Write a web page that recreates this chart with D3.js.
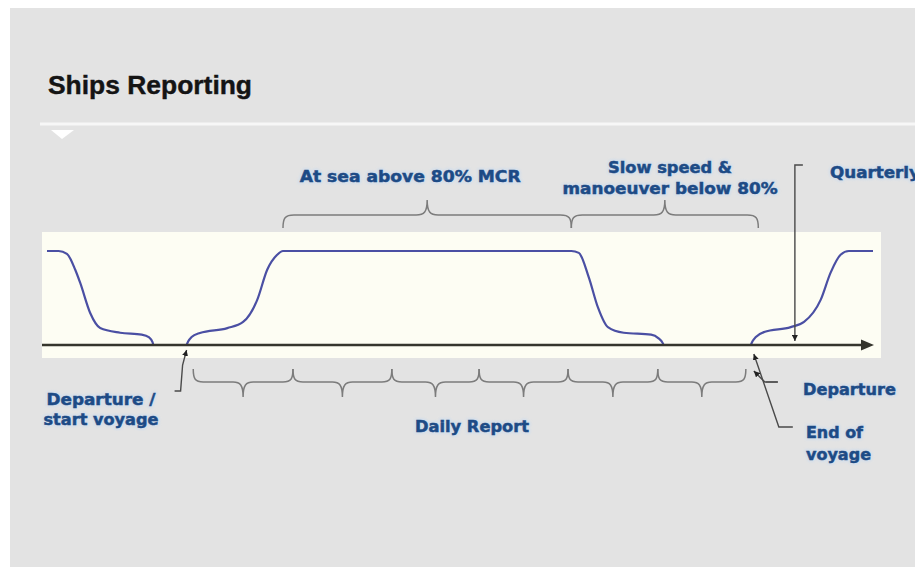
<!DOCTYPE html>
<html><head><meta charset="utf-8">
<script src="https://cdn.jsdelivr.net/npm/d3@7"></script>
<style>html,body{margin:0;padding:0;background:#fff;} svg{display:block}</style>
</head><body><svg id="chart" width="922" height="567"></svg>
<script>
// ---------------- DATA ----------------
const chartTitle = "Ships Reporting";
// engine load (% of range) over the voyage timeline (0-100)
const loadPrevVoyage = [[0.6,100],[2.0,100],[3.0,97],[4.0,80],[4.6,66],[5.8,34],[7.0,18],[9.4,13],[12.0,11],[12.9,8],[13.3,3],[13.4,0]];
const loadVoyage = [[17.4,0],[17.6,4],[18.0,8.5],[19.0,12.8],[22.3,18],[24.2,24.5],[25.9,48],[27.1,80],[28.3,96],[29.0,100],[63.7,100],[64.6,98],[65.8,72],[66.9,40],[68.1,19],[70.0,13],[73.3,11],[74.2,7],[74.7,2],[74.8,0]];
const loadNextVoyage = [[85.3,0],[85.5,4],[85.9,8.5],[86.9,13.8],[90.1,19],[91.7,24.5],[93.7,48],[94.9,77],[96.1,96],[97.1,100],[100,100]];
const phaseLabels = [["At sea above 80% MCR"], ["Slow speed &", "manoeuver below 80%"]];
const phaseStart = [29.0, 63.7];
const phaseEnd = [63.7, 86.2];
const dailyBounds = [18.2, 30.2, 42.1, 52.6, 63.3, 74.1, 84.7];
const dailyLabel = "Daily Report";
const startLabel = ["Departure /", "start voyage"];
const startTime = 17.4;
const endLabel = ["End of", "voyage"];
const departLabel = "Departure";
const endTime = 85.3;
const quarterlyLabel = "Quarterly";
const quarterlyTime = 90.6;

// ---------------- DRAW ----------------
const svg = d3.select("#chart");
const blue = "#1d4b86", curveCol = "#4a4fa3", grayLine = "#7c7c7c";

const x = d3.scaleLinear().domain([0, 100]).range([42, 873]);
const y = d3.scaleLinear().domain([0, 100]).range([345, 251]);

const defs = svg.append("defs");
defs.append("clipPath").attr("id", "frame").append("rect")
  .attr("x", 10).attr("y", 8).attr("width", 905).attr("height", 559);
defs.append("marker").attr("id", "arr").attr("viewBox", "0 0 10 10")
  .attr("refX", 10).attr("refY", 5).attr("markerWidth", 6).attr("markerHeight", 6)
  .attr("markerUnits", "userSpaceOnUse").attr("orient", "auto")
  .append("path").attr("d", "M0,0 L10,5 L0,10 z").attr("fill", "#222");
defs.append("filter").attr("id", "soft").append("feGaussianBlur").attr("stdDeviation", 1.2);
defs.append("filter").attr("id", "soft2").append("feGaussianBlur").attr("stdDeviation", 0.6);

const g = svg.append("g").attr("clip-path", "url(#frame)");
g.append("rect").attr("x", 10).attr("y", 8).attr("width", 905).attr("height", 559).attr("fill", "#e3e3e3");

// slide decorations
g.append("line").attr("x1", 40).attr("x2", 915).attr("y1", 124).attr("y2", 124)
  .attr("stroke", "#f7f7f7").attr("stroke-width", 3);
g.append("path").attr("d", "M51,130 L74,130 L62,139 Z").attr("fill", "#ffffff").attr("filter", "url(#soft2)");

g.append("text").attr("x", 48).attr("y", 94).text(chartTitle)
  .attr("font-family", "Liberation Sans, Arial, sans-serif").attr("font-weight", "bold")
  .attr("font-size", 25).attr("fill", "#141414").attr("stroke", "#141414").attr("stroke-width", 0.4)
  .attr("textLength", 204).attr("lengthAdjust", "spacingAndGlyphs");

// band
g.append("rect").attr("x", x(0)).attr("y", y(100) - 19)
  .attr("width", x(100) + 8 - x(0)).attr("height", (y(0) + 13) - (y(100) - 19))
  .attr("fill", "#fdfdf3");

// load curves
const line = d3.line().x(d => x(d[0])).y(d => y(d[1])).curve(d3.curveMonotoneX);
[loadPrevVoyage, loadVoyage, loadNextVoyage].forEach(s => {
  g.append("path").attr("d", line(s)).attr("fill", "none")
    .attr("stroke", curveCol).attr("stroke-width", 2.2);
});

// time axis with arrow
g.append("line").attr("x1", x(0)).attr("x2", x(100) - 10).attr("y1", y(0)).attr("y2", y(0))
  .attr("stroke", "#35352d").attr("stroke-width", 2.6);
g.append("path").attr("d", `M${x(100)-12},${y(0)-5.5} L${x(100)+1},${y(0)} L${x(100)-12},${y(0)+5.5} Z`)
  .attr("fill", "#35352d");

// braces
function brace(x0, x1, yEnd, yMid, yTip, r) {
  const xm = (x0 + x1) / 2, s = Math.sign(yEnd - yMid);
  return `M${x0},${yEnd} C${x0},${yMid+3*s} ${x0+2},${yMid} ${x0+r},${yMid} L${xm-r},${yMid} C${xm-3},${yMid} ${xm},${yMid-3*s} ${xm},${yTip} C${xm},${yMid-3*s} ${xm+3},${yMid} ${xm+r},${yMid} L${x1-r},${yMid} C${x1-2},${yMid} ${x1},${yMid+3*s} ${x1},${yEnd}`;
}
phaseStart.forEach((s, i) => {
  g.append("path").attr("d", brace(x(s), x(phaseEnd[i]), 228, 215, 200, 11))
    .attr("fill", "none").attr("stroke", grayLine).attr("stroke-width", 1.5);
});
for (let i = 0; i < dailyBounds.length - 1; i++) {
  g.append("path").attr("d", brace(x(dailyBounds[i]), x(dailyBounds[i + 1]), 369, 382, 397, 10))
    .attr("fill", "none").attr("stroke", grayLine).attr("stroke-width", 1.5);
}
// start of next daily brace, partly hidden
g.append("path").attr("d", `M${x(dailyBounds[6])+20},382 L${x(dailyBounds[6])+32},382`)
  .attr("fill", "none").attr("stroke", grayLine).attr("stroke-width", 1.5);

// text helper
function label(lines, cx, y0, dy, lens, anchor) {
  lines.forEach((l, i) => {
    const mk = () => g.append("text").attr("x", cx).attr("y", y0 + i * dy).text(l)
      .attr("text-anchor", anchor || "middle")
      .attr("font-family", "DejaVu Sans, Verdana, sans-serif").attr("font-weight", "bold")
      .attr("font-size", 16)
      .attr("textLength", lens[i]).attr("lengthAdjust", "spacingAndGlyphs");
    mk().attr("fill", "#cddcee").attr("stroke", "#cddcee").attr("stroke-width", 4)
      .attr("stroke-linejoin", "round").attr("opacity", 0.7).attr("filter", "url(#soft)");
    mk().attr("fill", blue).attr("stroke", blue).attr("stroke-width", 0.5);
  });
}
label(phaseLabels[0], (x(phaseStart[0]) + x(phaseEnd[0])) / 2 - 17, 182, 0, [221]);
label(phaseLabels[1], 670, 173, 21, [124, 215]);
label([quarterlyLabel], 830, 178, 0, [90], "start");
label(startLabel, 101, 405, 20, [109, 115]);
label([dailyLabel], 472, 432, 0, [114]);
label([departLabel], 803, 395, 0, [93], "start");
label(endLabel, 806, 438, 22, [57, 65], "start");

// pointer arrows
const arrowStyle = p => p.attr("fill", "none").attr("stroke", "#4a4a4a").attr("stroke-width", 1.4)
  .attr("marker-end", "url(#arr)");
const qx = x(quarterlyTime);
g.append("path").attr("d", `M${qx+8},165 L${qx},165 L${qx},${y(0)-4}`).call(arrowStyle);
const sx = x(startTime);
g.append("path").attr("d", `M${sx-12},391 L${sx-6},391 L${sx-4},365 L${sx},${y(0)+5}`).call(arrowStyle);
const ex = x(endTime);
g.append("path").attr("d", `M${ex+42},427 L${ex+28},427 L${ex+3},${y(0)+9}`).call(arrowStyle);
g.append("path").attr("d", `M${ex+27},382 L${ex+14},382 L${ex+3},${y(0)+26}`).call(arrowStyle);
</script></body></html>
